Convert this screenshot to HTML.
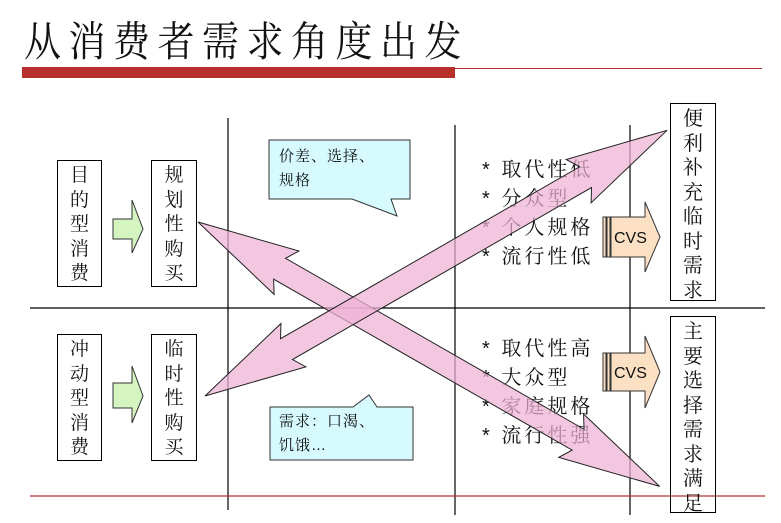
<!DOCTYPE html>
<html><head><meta charset="utf-8"><style>
body{margin:0;width:781px;height:523px;background:#fff;position:relative;overflow:hidden;font-family:"Liberation Sans","Noto Serif CJK SC","Noto Sans CJK SC",sans-serif;}
.a{position:absolute}
.vbox{position:absolute;border:1.5px solid #000;box-sizing:border-box;text-align:center;font-size:19px;line-height:24.5px;padding-top:3px;color:#111}
.bl{position:absolute;font-size:20px;line-height:29px;color:#111;letter-spacing:3px}
</style></head><body>
<div class="a" style="left:24px;top:8px;font-size:37px;letter-spacing:7.5px;font-family:'Noto Serif CJK SC',serif;transform:scaleY(1.12);transform-origin:top left;color:#111">从消费者需求角度出发</div>
<div class="a" style="left:22px;top:67px;width:433px;height:11px;background:#b8302b"></div>
<div class="a" style="left:455px;top:68px;width:307px;height:1px;background:#b8302b"></div>

<svg class="a" style="left:0;top:0" width="781" height="523">
<g stroke="#000" stroke-width="1.2">
<line x1="228" y1="118" x2="228" y2="510"/>
<line x1="455" y1="125" x2="455" y2="515"/>
<line x1="630" y1="125" x2="630" y2="515"/>
<line x1="30" y1="308" x2="765" y2="308"/>
</g>
<line x1="30" y1="496" x2="765" y2="496" stroke="#b8302b" stroke-width="1.2"/>
<polygon points="113,219 132,219 132,200 143,229 132,253 132,239 113,239" fill="#d4f5c0" stroke="#333" stroke-width="1"/>
<polygon points="113,383 132,383 132,366 143,396 132,423 132,408 113,408" fill="#d4f5c0" stroke="#333" stroke-width="1"/>
<polygon points="269,140 410,140 410,199 391,199 397,216 352,199 269,199" fill="#d6fafe" stroke="#333" stroke-width="1"/>
<polygon points="270,407 353,407 369,395 377,407 413,407 413,460 270,460" fill="#d6fafe" stroke="#333" stroke-width="1"/>
<g stroke="#333" stroke-width="1" fill="#fbe0c4">
<rect x="603" y="217" width="3" height="40"/><rect x="607" y="217" width="3" height="40"/>
<polygon points="611,217 645,217 645,202 660,237 645,272 645,257 611,257"/>
<rect x="603" y="353" width="3" height="38"/><rect x="607" y="353" width="3" height="38"/>
<polygon points="611,353 645,353 645,336 660,372 645,408 645,391 611,391"/>
</g>
<text x="614" y="243" font-size="16" font-family="Liberation Sans" fill="#111">CVS</text>
<text x="614" y="378" font-size="16" font-family="Liberation Sans" fill="#111">CVS</text>
</svg>

<div class="vbox" style="left:57px;top:160px;width:45px;height:127px">目<br>的<br>型<br>消<br>费</div>
<div class="vbox" style="left:151px;top:160px;width:46px;height:127px">规<br>划<br>性<br>购<br>买</div>
<div class="vbox" style="left:57px;top:334px;width:45px;height:127px">冲<br>动<br>型<br>消<br>费</div>
<div class="vbox" style="left:151px;top:334px;width:46px;height:127px">临<br>时<br>性<br>购<br>买</div>
<div class="vbox" style="left:670px;top:103px;width:46px;height:198px;font-size:20px">便<br>利<br>补<br>充<br>临<br>时<br>需<br>求</div>
<div class="vbox" style="left:670px;top:316px;width:46px;height:197px;font-size:20px">主<br>要<br>选<br>择<br>需<br>求<br>满<br>足</div>

<div class="a" style="left:279px;top:145px;font-size:15px;line-height:24px;color:#111;letter-spacing:1px">价差、选择、<br>规格</div>
<div class="a" style="left:279px;top:410px;font-size:15px;line-height:24px;color:#111;letter-spacing:1px">需求：口渴、<br>饥饿…</div>

<div class="bl" style="left:482px;top:156px">* 取代性低<br>* 分众型<br>* 个人规格<br>* 流行性低</div>
<div class="bl" style="left:482px;top:335px">* 取代性高<br>* 大众型<br>* 家庭规格<br>* 流行性强</div>

<svg class="a" style="left:0;top:0" width="781" height="523">
<g fill="#eeb2d4" fill-opacity="0.72" stroke="#222" stroke-width="1">
<polygon transform="translate(198,222) rotate(29.8)" points="0,0 102,-25 94,-12 438,-12 430,-25 532,0 430,25 438,12 94,12 102,25"/>
<polygon transform="translate(205,396) rotate(-29.9)" points="0,0 102,-25 94,-12 439,-12 431,-25 533,0 431,25 439,12 94,12 102,25"/>
</g>
</svg>
</body></html>
